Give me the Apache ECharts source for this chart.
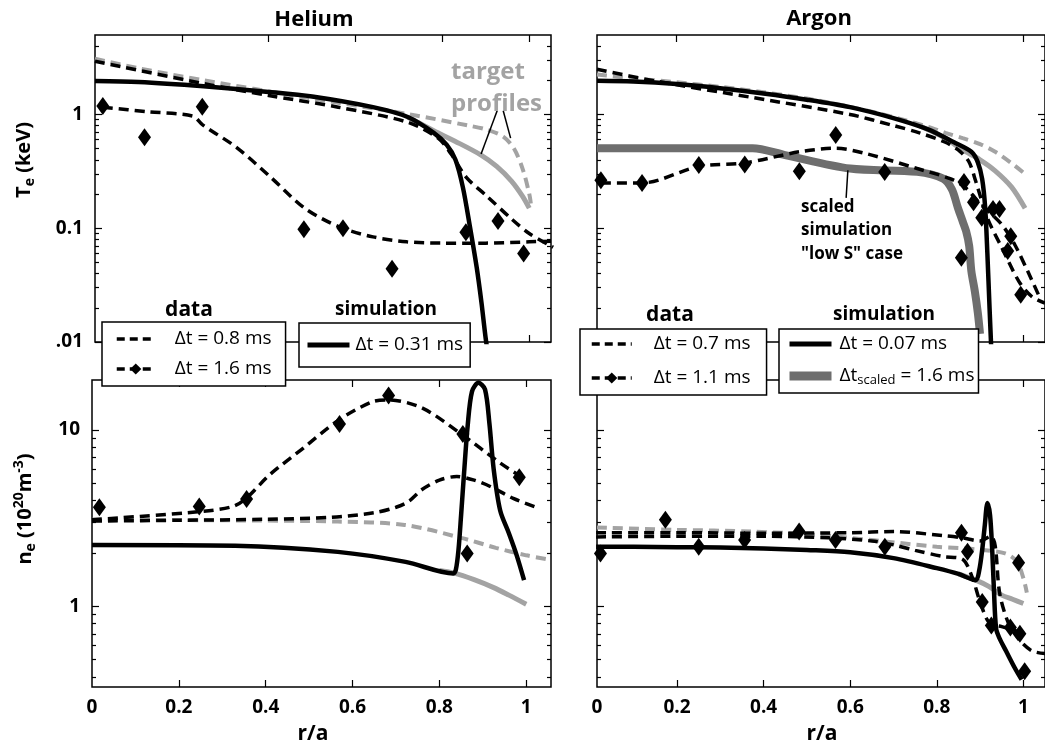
<!DOCTYPE html>
<html>
<head>
<meta charset="utf-8">
<title>Te and ne profiles, Helium / Argon</title>
<script src="https://cdn.jsdelivr.net/npm/echarts@6/dist/echarts.min.js"></script>
<style>
	html, body { margin: 0; padding: 0; background: #fff; }
	#chart { width: 1045px; height: 745px; }
</style>
</head>
<body>
<div id="chart"></div>
<script>
	// ---------- ticks ----------
	const xTicks = [0.2, 0.4, 0.6, 0.8, 1]
	const xTickLabels = ['0', '0.2', '0.4', '0.6', '0.8', '1']
	const teMajor = [0.01, 0.1, 1]
	const teLabels = ['.01', '0.1', '1']
	const teMinor = [0.02, 0.03, 0.04, 0.05, 0.06, 0.07, 0.08, 0.09, 0.2, 0.3, 0.4, 0.5, 0.6, 0.7, 0.8, 0.9, 2, 3, 4]
	const neMajor = [1, 10]
	const neLabels = ['1', '10']
	const neMinor = [0.4, 0.5, 0.6, 0.7, 0.8, 0.9, 2, 3, 4, 5, 6, 7, 8, 9]

	// ---------- Helium, Te (keV) ----------
	const heTeTgtDashX = [0, 0.1, 0.25, 0.48, 0.72, 0.86, 0.9, 0.94, 0.965, 0.985, 1.0, 1.004]
	const heTeTgtDash = [3.1, 2.55, 2.0, 1.42, 1.01, 0.8, 0.74, 0.64, 0.5, 0.33, 0.2, 0.16]
	const heTeTgtSolidX = [0.72, 0.78, 0.83, 0.889, 0.925, 0.959, 0.985, 1.0]
	const heTeTgtSolid = [0.95, 0.72, 0.58, 0.44, 0.35, 0.26, 0.19, 0.15]
	const heTeSimX = [0, 0.1, 0.25, 0.4, 0.5, 0.64, 0.72, 0.78, 0.81, 0.83, 0.847, 0.863, 0.879, 0.89, 0.9, 0.91]
	const heTeSim = [1.97, 1.93, 1.77, 1.58, 1.44, 1.16, 0.95, 0.69, 0.54, 0.4, 0.23, 0.105, 0.045, 0.022, 0.0105, 0.006]
	const heTe08X = [0, 0.25, 0.4, 0.56, 0.72, 0.79, 0.82, 0.855, 0.9, 0.96, 1.0, 1.055]
	const heTe08 = [2.94, 1.87, 1.47, 1.16, 0.855, 0.62, 0.45, 0.28, 0.195, 0.12, 0.09, 0.068]
	const heTe16X = [0.018, 0.12, 0.225, 0.248, 0.327, 0.405, 0.483, 0.562, 0.64, 0.718, 0.8, 0.9, 1.0, 1.05]
	const heTe16 = [1.16, 1.06, 0.97, 0.81, 0.51, 0.28, 0.15, 0.103, 0.084, 0.076, 0.074, 0.074, 0.076, 0.077]
	const heTeDiaX = [0.018, 0.114, 0.247, 0.481, 0.571, 0.684, 0.854, 0.928, 0.987]
	const heTeDia = [1.19, 0.63, 1.17, 0.098, 0.1, 0.044, 0.092, 0.116, 0.06]
	const tgtPtr1X = [0.926, 0.889]
	const tgtPtr1 = [1.08, 0.45]
	const tgtPtr2X = [0.94, 0.957]
	const tgtPtr2 = [1.08, 0.62]

	// ---------- Argon, Te (keV) ----------
	const arTeTgtDashX = [0.016, 0.1, 0.2, 0.3, 0.4, 0.5, 0.6, 0.7, 0.78, 0.82, 0.86, 0.9, 0.935, 0.97, 1.004]
	const arTeTgtDash = [2.25, 2.08, 1.92, 1.75, 1.57, 1.38, 1.17, 0.95, 0.78, 0.69, 0.62, 0.55, 0.47, 0.38, 0.3]
	const arTeTgtSolidX = [0.75, 0.82, 0.859, 0.9, 0.935, 0.973, 1.004]
	const arTeTgtSolid = [0.83, 0.62, 0.49, 0.4, 0.32, 0.23, 0.15]
	const arTeSimX = [0.016, 0.1, 0.2, 0.3, 0.4, 0.5, 0.6, 0.7, 0.78, 0.84, 0.88, 0.895, 0.905, 0.912, 0.917, 0.922, 0.927]
	const arTeSim = [1.98, 1.95, 1.85, 1.7, 1.53, 1.35, 1.16, 0.93, 0.74, 0.57, 0.47, 0.38, 0.27, 0.15, 0.06, 0.02, 0.007]
	const arTeScaledX = [0.016, 0.2, 0.375, 0.45, 0.6, 0.755, 0.815, 0.835, 0.849, 0.86, 0.868, 0.875, 0.88, 0.888, 0.895, 0.9]
	const arTeScaled = [0.505, 0.505, 0.505, 0.44, 0.335, 0.313, 0.273, 0.22, 0.151, 0.115, 0.094, 0.07, 0.042, 0.028, 0.018, 0.0118]
	const arTe07X = [0.016, 0.147, 0.375, 0.6, 0.7, 0.76, 0.82, 0.855, 0.875, 0.89, 0.917, 0.95, 0.99, 1.02, 1.05]
	const arTe07 = [2.5, 1.98, 1.41, 1.0, 0.8, 0.69, 0.57, 0.47, 0.38, 0.26, 0.123, 0.068, 0.034, 0.025, 0.022]
	const arTe11X = [0.025, 0.12, 0.251, 0.357, 0.483, 0.567, 0.64, 0.755, 0.831, 0.865, 0.9, 0.95, 0.98, 1.01, 1.035]
	const arTe11 = [0.25, 0.25, 0.35, 0.375, 0.47, 0.505, 0.45, 0.335, 0.273, 0.23, 0.165, 0.108, 0.072, 0.042, 0.026]
	const arTeDiaX = [0.025, 0.12, 0.251, 0.357, 0.483, 0.567, 0.68, 0.857, 0.863, 0.885, 0.904, 0.93, 0.945, 0.964, 0.971, 0.994]
	const arTeDia = [0.264, 0.25, 0.359, 0.364, 0.317, 0.66, 0.313, 0.055, 0.255, 0.169, 0.124, 0.148, 0.148, 0.063, 0.085, 0.026]
	const lowSPtrX = [0.595, 0.591]
	const lowSPtr = [0.324, 0.185]

	// ---------- Helium, ne (1e20 m^-3) ----------
	const heNeTgtDashX = [0, 0.3, 0.566, 0.72, 0.85, 0.93, 1.0, 1.05]
	const heNeTgtDash = [3.1, 3.08, 3.03, 2.9, 2.45, 2.15, 1.95, 1.85]
	const heNeTgtSolidX = [0.8, 0.832, 0.88, 0.925, 0.96, 1.0]
	const heNeTgtSolid = [1.6, 1.55, 1.42, 1.28, 1.16, 1.03]
	const heNeSimX = [0, 0.33, 0.566, 0.722, 0.832, 0.838, 0.844, 0.85, 0.857, 0.865, 0.875, 0.89, 0.905, 0.915, 0.925, 0.94, 0.96, 0.978, 0.995]
	const heNeSim = [2.23, 2.21, 2.04, 1.79, 1.54, 1.62, 2.1, 3.3, 5.8, 10.5, 16.5, 18.5, 17, 11, 6, 3.5, 2.6, 1.95, 1.41]
	const heNe08X = [0, 0.2, 0.4, 0.55, 0.65, 0.7, 0.73, 0.76, 0.8, 0.84, 0.88, 0.92, 0.97, 1.03]
	const heNe08 = [3.05, 3.08, 3.12, 3.2, 3.4, 3.65, 3.95, 4.6, 5.2, 5.45, 5.2, 4.75, 4.1, 3.6]
	const heNe16X = [0, 0.255, 0.325, 0.356, 0.41, 0.488, 0.566, 0.644, 0.683, 0.761, 0.85, 0.94, 0.995]
	const heNe16 = [3.1, 3.46, 3.69, 4.12, 5.6, 7.95, 11.3, 14.4, 14.8, 13.3, 9.5, 6.5, 5.3]
	const heNeDiaX = [0.017, 0.247, 0.356, 0.57, 0.683, 0.854, 0.864, 0.984]
	const heNeDia = [3.65, 3.69, 4.06, 10.8, 15.7, 9.5, 2.0, 5.4]

	// ---------- Argon, ne (1e20 m^-3) ----------
	const arNeTgtDashX = [0.015, 0.2, 0.37, 0.52, 0.67, 0.8, 0.853, 0.9, 0.958, 0.985, 1.0, 1.008]
	const arNeTgtDash = [2.8, 2.72, 2.66, 2.55, 2.35, 2.18, 2.14, 2.1, 2.0, 1.8, 1.45, 1.2]
	const arNeTgtSolidX = [0.85, 0.89, 0.92, 0.95, 0.975, 1.0]
	const arNeTgtSolid = [1.53, 1.41, 1.3, 1.16, 1.1, 1.04]
	const arNeSimX = [0.013, 0.1, 0.2, 0.3, 0.4, 0.5, 0.6, 0.7, 0.8, 0.85, 0.89, 0.898, 0.905, 0.911, 0.917, 0.923, 0.928, 0.932, 0.937, 0.945, 0.96, 0.98, 0.996]
	const arNeSim = [2.18, 2.18, 2.17, 2.16, 2.13, 2.09, 2.03, 1.88, 1.65, 1.53, 1.41, 1.6, 2.1, 2.9, 3.86, 3.3, 2.1, 1.25, 0.75, 0.66, 0.56, 0.45, 0.385]
	const arNe07X = [0.013, 0.2, 0.4, 0.6, 0.7, 0.815, 0.86, 0.9, 0.925, 0.935, 0.945, 0.965, 0.99, 1.02, 1.055]
	const arNe07 = [2.62, 2.62, 2.6, 2.62, 2.66, 2.52, 2.45, 2.35, 2.5, 2.2, 1.2, 0.81, 0.65, 0.56, 0.54]
	const arNe11X = [0.013, 0.2, 0.4, 0.55, 0.65, 0.702, 0.75, 0.815, 0.86, 0.883, 0.898, 0.921, 0.95, 0.975, 1.0]
	const arNe11 = [2.48, 2.5, 2.5, 2.45, 2.35, 2.23, 2.08, 1.92, 1.85, 1.44, 1.1, 0.81, 0.77, 0.74, 0.7]
	const arNeDiaX = [0.023, 0.173, 0.25, 0.356, 0.482, 0.566, 0.68, 0.857, 0.871, 0.905, 0.926, 0.97, 0.989, 0.992, 1.003]
	const arNeDia = [2.0, 3.1, 2.18, 2.38, 2.66, 2.38, 2.18, 2.62, 2.04, 1.06, 0.78, 0.76, 1.77, 0.7, 0.43]

	// ---------- styling ----------
	const FONT = "'Open Sans', 'DejaVu Sans', sans-serif"
	const BLACK = '#000'
	const GRAY = '#a3a3a3'
	const DARK = '#6e6e6e'
	const DASH = [10, 6]

	const pts = (xs, ys) => xs.map((x, i) => [x, ys[i]])

	const line = (g, name, xs, ys, color, width, type, z) => ({
		type: 'line',
		name: name,
		xAxisIndex: 2 * g,
		yAxisIndex: 4 * g,
		data: pts(xs, ys),
		symbol: 'none',
		smooth: 0.3,
		z: z,
		lineStyle: { color: color, width: width, type: type, cap: 'butt' },
		itemStyle: { color: color },
		emphasis: { disabled: true },
		silent: true
	})

	const pointer = (g, name, xs, ys) => ({
		type: 'line',
		name: name,
		xAxisIndex: 2 * g,
		yAxisIndex: 4 * g,
		data: pts(xs, ys),
		symbol: 'none',
		z: 6,
		lineStyle: { color: BLACK, width: 1.5 },
		silent: true
	})

	const diamonds = (g, name, xs, ys) => ({
		type: 'scatter',
		name: name,
		xAxisIndex: 2 * g,
		yAxisIndex: 4 * g,
		data: pts(xs, ys),
		symbol: 'diamond',
		symbolSize: [13, 18],
		itemStyle: { color: BLACK, opacity: 1 },
		z: 7,
		silent: true
	})

	// legend-only entries (dashed line with a diamond on it)
	const legendOnly = (g, name) => ({
		type: 'line',
		name: name,
		xAxisIndex: 2 * g,
		yAxisIndex: 4 * g,
		data: [],
		symbol: 'diamond',
		symbolSize: [10, 14],
		lineStyle: { color: BLACK, width: 3.5, type: DASH },
		itemStyle: { color: BLACK }
	})

	const tickStyle = { color: BLACK, width: 1.2 }
	const labelStyle = { color: BLACK, fontFamily: FONT, fontWeight: 'bold', fontSize: 19 }

	const grids = [
		{ left: 95, top: 35, width: 456, height: 307 },
		{ left: 597, top: 35, width: 456, height: 307 },
		{ left: 92, top: 380, width: 459, height: 307 },
		{ left: 597, top: 380, width: 456, height: 307 }
	].map(g => Object.assign(g, { show: true, borderColor: BLACK, borderWidth: 1.5, backgroundColor: 'transparent' }))

	const xAxesFor = (g, min, max, showLabels) => {
		const base = { type: 'value', gridIndex: g, min: min, max: max, axisLine: { show: false }, splitLine: { show: false } }
		return [
			Object.assign({}, base, {
				position: 'bottom',
				axisTick: { show: true, inside: true, length: 7, customValues: xTicks, lineStyle: tickStyle },
				axisLabel: Object.assign({
					show: showLabels,
					margin: 11,
					customValues: [min].concat(xTicks),
					formatter: v => xTickLabels[Math.round(v * 5)]
				}, labelStyle)
			}),
			Object.assign({}, base, {
				position: 'top',
				axisTick: { show: true, inside: true, length: 7, customValues: xTicks, lineStyle: tickStyle },
				axisLabel: { show: false }
			})
		]
	}

	const yAxesFor = (g, min, max, major, minor, labels) => {
		const base = { type: 'log', logBase: 10, gridIndex: g, min: min, max: max, axisLine: { show: false }, splitLine: { show: false } }
		const fmt = v => {
			const i = major.findIndex(m => Math.abs(m - v) < m * 1e-6)
			return i >= 0 && labels ? labels[i] : ''
		}
		return [
			Object.assign({}, base, {
				position: 'left',
				axisTick: { show: true, inside: true, length: 7, customValues: major, lineStyle: tickStyle },
				axisLabel: Object.assign({ show: !!labels, margin: 12, customValues: major, formatter: fmt }, labelStyle)
			}),
			Object.assign({}, base, {
				position: 'left',
				axisTick: { show: true, inside: true, length: 4, customValues: minor, lineStyle: tickStyle },
				axisLabel: { show: false }
			}),
			Object.assign({}, base, {
				position: 'right',
				axisTick: { show: true, inside: true, length: 7, customValues: major, lineStyle: tickStyle },
				axisLabel: { show: false }
			}),
			Object.assign({}, base, {
				position: 'right',
				axisTick: { show: true, inside: true, length: 4, customValues: minor, lineStyle: tickStyle },
				axisLabel: { show: false }
			})
		]
	}

	const xAxis = [].concat(
		xAxesFor(0, 0, 1.05, false),
		xAxesFor(1, 0.016, 1.05, false),
		xAxesFor(2, 0, 1.057, true),
		xAxesFor(3, 0.015, 1.05, true)
	)
	const yAxis = [].concat(
		yAxesFor(0, 0.01, 5, teMajor, teMinor, teLabels),
		yAxesFor(1, 0.01, 5, teMajor, teMinor, null),
		yAxesFor(2, 0.35, 19.2, neMajor, neMinor, neLabels),
		yAxesFor(3, 0.35, 19.2, neMajor, neMinor, null)
	)

	const series = [
		// Helium Te
		line(0, 'heTeTgtDash', heTeTgtDashX, heTeTgtDash, GRAY, 4, DASH, 2),
		line(0, 'heTeTgtSolid', heTeTgtSolidX, heTeTgtSolid, GRAY, 5, 'solid', 2),
		line(0, 'Δt = 0.8 ms', heTe08X, heTe08, BLACK, 3.5, DASH, 3),
		line(0, 'heTe16', heTe16X, heTe16, BLACK, 3.5, DASH, 3),
		line(0, 'Δt = 0.31 ms', heTeSimX, heTeSim, BLACK, 4.5, 'solid', 4),
		diamonds(0, 'heTeDia', heTeDiaX, heTeDia),
		pointer(0, 'tgtPtr1', tgtPtr1X, tgtPtr1),
		pointer(0, 'tgtPtr2', tgtPtr2X, tgtPtr2),
		legendOnly(0, 'Δt = 1.6 ms'),
		// Argon Te
		line(1, 'arTeTgtDash', arTeTgtDashX, arTeTgtDash, GRAY, 4, DASH, 2),
		line(1, 'arTeTgtSolid', arTeTgtSolidX, arTeTgtSolid, GRAY, 5, 'solid', 2),
		line(1, 'Δt_scaled = 1.6 ms', arTeScaledX, arTeScaled, DARK, 8, 'solid', 2),
		line(1, 'Δt = 0.7 ms', arTe07X, arTe07, BLACK, 3.5, DASH, 3),
		line(1, 'arTe11', arTe11X, arTe11, BLACK, 3.5, DASH, 3),
		line(1, 'Δt = 0.07 ms', arTeSimX, arTeSim, BLACK, 4.5, 'solid', 4),
		diamonds(1, 'arTeDia', arTeDiaX, arTeDia),
		pointer(1, 'lowSPtr', lowSPtrX, lowSPtr),
		legendOnly(1, 'Δt = 1.1 ms'),
		// Helium ne
		line(2, 'heNeTgtDash', heNeTgtDashX, heNeTgtDash, GRAY, 4, DASH, 2),
		line(2, 'heNeTgtSolid', heNeTgtSolidX, heNeTgtSolid, GRAY, 5, 'solid', 2),
		line(2, 'heNe08', heNe08X, heNe08, BLACK, 3.5, DASH, 3),
		line(2, 'heNe16', heNe16X, heNe16, BLACK, 3.5, DASH, 3),
		line(2, 'heNeSim', heNeSimX, heNeSim, BLACK, 4.5, 'solid', 4),
		diamonds(2, 'heNeDia', heNeDiaX, heNeDia),
		// Argon ne
		line(3, 'arNeTgtDash', arNeTgtDashX, arNeTgtDash, GRAY, 4, DASH, 2),
		line(3, 'arNeTgtSolid', arNeTgtSolidX, arNeTgtSolid, GRAY, 5, 'solid', 2),
		line(3, 'arNe07', arNe07X, arNe07, BLACK, 3.5, DASH, 3),
		line(3, 'arNe11', arNe11X, arNe11, BLACK, 3.5, DASH, 3),
		line(3, 'arNeSim', arNeSimX, arNeSim, BLACK, 4.5, 'solid', 4),
		diamonds(3, 'arNeDia', arNeDiaX, arNeDia)
	]

	// legend entries: plain line, or line with the diamond marker
	const plainItem = (name, color, width, type) => ({
		name: name,
		itemStyle: { opacity: 0 },
		lineStyle: { color: color, width: width, type: type }
	})
	const diamondItem = name => ({
		name: name,
		itemStyle: { color: BLACK, opacity: 1 },
		lineStyle: { color: BLACK, width: 3.5, type: [8, 5] }
	})

	const legendBox = (items, left, top, padding, itemWidth, itemGap, textPad) => ({
		data: items,
		left: left,
		top: top,
		orient: 'vertical',
		padding: padding,
		itemWidth: itemWidth,
		itemHeight: 14,
		itemGap: itemGap,
		selectedMode: false,
		backgroundColor: '#fff',
		borderColor: BLACK,
		borderWidth: 1.5,
		borderRadius: 0,
		z: 20,
		formatter: name => name === 'Δt_scaled = 1.6 ms' ? '{n|Δt}{s|scaled}{n| = 1.6 ms}' : name,
		textStyle: {
			fontFamily: FONT,
			fontSize: 19,
			color: BLACK,
			lineHeight: 22,
			padding: [0, 0, 0, textPad],
			rich: {
				n: { fontFamily: FONT, fontSize: 19, color: BLACK, lineHeight: 22 },
				s: { fontFamily: FONT, fontSize: 13, color: BLACK, lineHeight: 14, verticalAlign: 'bottom' }
			}
		}
	})

	const legend = [
		legendBox([plainItem('Δt = 0.8 ms', BLACK, 3.5, [8, 5]), diamondItem('Δt = 1.6 ms')], 102, 322, [6, 14, 6, 13], 38, 8, 15),
		legendBox([plainItem('Δt = 0.31 ms', BLACK, 5, 'solid')], 299, 323, [11, 7, 11, 6], 42, 8, 1),
		legendBox([plainItem('Δt = 0.7 ms', BLACK, 3.5, [8, 5]), diamondItem('Δt = 1.1 ms')], 580, 329, [4, 16, 6, 10], 40, 12, 17),
		legendBox([plainItem('Δt = 0.07 ms', BLACK, 5, 'solid'), plainItem('Δt_scaled = 1.6 ms', DARK, 9, 'solid')], 779, 329, [4, 4, 6, 6], 42, 10, 3)
	]

	const txt = (x, y, text, size, extra) => ({
		type: 'text',
		x: x,
		y: y,
		z: 30,
		silent: true,
		style: Object.assign({
			text: text,
			fontFamily: FONT,
			fontWeight: 'bold',
			fontSize: size,
			fill: BLACK,
			align: 'center',
			verticalAlign: 'middle'
		}, extra || {})
	})

	const graphic = [
		txt(314, 20, 'Helium', 22),
		txt(819, 19, 'Argon', 22),
		txt(189, 310, 'data', 21),
		txt(386, 310, 'simulation', 19),
		txt(670, 315, 'data', 21),
		txt(884, 315, 'simulation', 19),
		txt(451, 72, 'target', 24, { fill: GRAY, align: 'left' }),
		txt(451, 104, 'profiles', 24, { fill: GRAY, align: 'left' }),
		txt(801, 207, 'scaled', 17, { align: 'left' }),
		txt(801, 230, 'simulation', 17, { align: 'left' }),
		txt(801, 254, '"low S" case', 17, { align: 'left' }),
		txt(313, 734, 'r/a', 21),
		txt(822, 734, 'r/a', 21),
		{
			type: 'text', x: 24, y: 160, rotation: Math.PI / 2, z: 30, silent: true,
			style: {
				text: '{m|T}{s|e}{m| (keV)}',
				align: 'center',
				verticalAlign: 'middle',
				rich: {
					m: { fontFamily: FONT, fontWeight: 'bold', fontSize: 20, lineHeight: 26, fill: BLACK },
					s: { fontFamily: FONT, fontWeight: 'bold', fontSize: 14, lineHeight: 14, fill: BLACK, verticalAlign: 'bottom' }
				}
			}
		},
		{
			type: 'text', x: 25, y: 509, rotation: Math.PI / 2, z: 30, silent: true,
			style: {
				text: '{m|n}{s|e}{m| (10}{p|20}{m|m}{p|-3}{m|)}',
				align: 'center',
				verticalAlign: 'middle',
				rich: {
					m: { fontFamily: FONT, fontWeight: 'bold', fontSize: 20, lineHeight: 26, fill: BLACK },
					s: { fontFamily: FONT, fontWeight: 'bold', fontSize: 14, lineHeight: 14, fill: BLACK, verticalAlign: 'bottom' },
					p: { fontFamily: FONT, fontWeight: 'bold', fontSize: 14, lineHeight: 14, fill: BLACK, verticalAlign: 'top' }
				}
			}
		}
	]

	const option = {
		animation: false,
		backgroundColor: '#fff',
		textStyle: { fontFamily: FONT },
		grid: grids,
		xAxis: xAxis,
		yAxis: yAxis,
		legend: legend,
		graphic: graphic,
		series: series
	}

	const myChart = echarts.init(document.getElementById('chart'))
	myChart.setOption(option)
</script>
</body>
</html>
